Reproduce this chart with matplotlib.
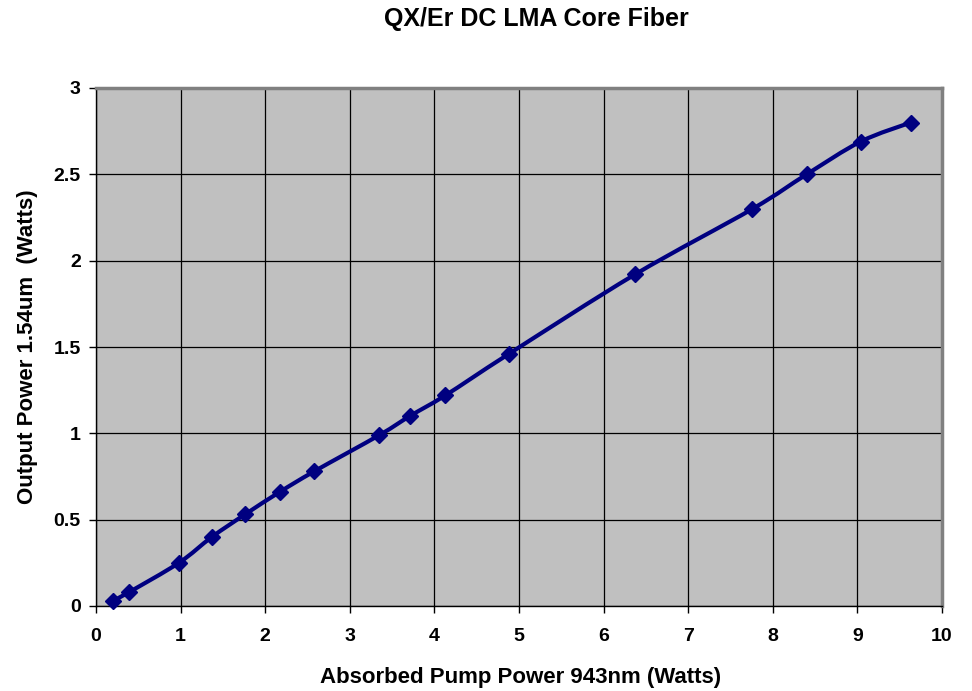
import numpy as np
import matplotlib
matplotlib.use("Agg")
import matplotlib.pyplot as plt
from matplotlib.path import Path
from matplotlib.patches import PathPatch

pump = [0.20, 0.39, 0.98, 1.37, 1.76, 2.17, 2.58, 3.35, 3.71, 4.13, 4.88, 6.37, 7.76, 8.40, 9.04, 9.63]
output = [0.03, 0.08, 0.25, 0.40, 0.53, 0.66, 0.78, 0.99, 1.10, 1.22, 1.46, 1.92, 2.30, 2.50, 2.69, 2.80]
xticks = [0, 1, 2, 3, 4, 5, 6, 7, 8, 9, 10]
yticks = [0, 0.5, 1, 1.5, 2, 2.5, 3]
ytick_labels = ["0", "0.5", "1", "1.5", "2", "2.5", "3"]

plt.rcParams['font.family'] = ['Liberation Sans', 'DejaVu Sans']

W, H = 972, 691
fig = plt.figure(figsize=(W/100, H/100), dpi=100)
ax = fig.add_axes([96/W, 1-606/H, (942-96)/W, (606-88)/H])
ax.set_facecolor('#C0C0C0')
ax.set_xlim(0, 10)
ax.set_ylim(0, 3)
ax.set_xticks(xticks)
ax.set_yticks(yticks)
ax.set_yticklabels(ytick_labels)
ax.grid(True, color='black', linewidth=0.9)
ax.set_axisbelow(True)
ax.tick_params(direction='out', length=5, width=1, labelsize=14)
ax.tick_params(axis='x', pad=11)
ax.tick_params(axis='y', pad=6)
for lab in ax.get_xticklabels() + ax.get_yticklabels():
    lab.set_fontweight('bold')
for s in ['top', 'right']:
    ax.spines[s].set_color('#808080')
    ax.spines[s].set_linewidth(2.5)
for s in ['left', 'bottom']:
    ax.spines[s].set_color('black')
    ax.spines[s].set_linewidth(1)

# smoothed line (Excel-style Bezier through the data points, in display space)
x = np.array(pump); y = np.array(output)
pts = ax.transData.transform(np.column_stack([x, y]))
verts = [pts[0]]; codes = [Path.MOVETO]
n = len(pts)
for i in range(n - 1):
    p0 = pts[i - 1] if i > 0 else pts[i]
    p1 = pts[i]; p2 = pts[i + 1]
    p3 = pts[i + 2] if i + 2 < n else pts[i + 1]
    c1 = p1 + (p2 - p0) / 6.0
    c2 = p2 - (p3 - p1) / 6.0
    verts += [c1, c2, p2]; codes += [Path.CURVE4] * 3
path = Path(ax.transData.inverted().transform(np.array(verts)), codes)
ax.add_patch(PathPatch(path, facecolor='none', edgecolor='#000080', linewidth=3, zorder=3))
ax.plot(x, y, linestyle='none', marker='D', markersize=8.5, color='#000080', zorder=4, clip_on=False)

fig.text(536/W, 1-19/H, 'QX/Er DC LMA Core Fiber', ha='center', va='center', fontsize=18, fontweight='bold')
fig.text(521/W, 1-678/H, 'Absorbed Pump Power 943nm (Watts)', ha='center', va='center', fontsize=16, fontweight='bold')
fig.text(28/W, 1-347/H, 'Output Power 1.54um  (Watts)', ha='center', va='center', rotation=90, fontsize=16, fontweight='bold')

fig.savefig('out.png', dpi=100)
